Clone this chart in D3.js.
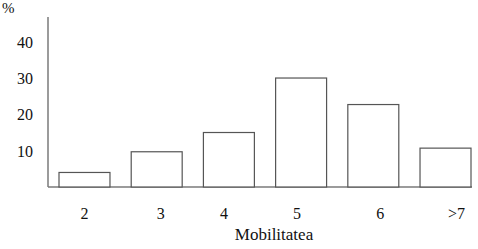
<!DOCTYPE html>
<html>
<head>
<meta charset="utf-8">
<script src="https://cdn.jsdelivr.net/npm/d3@7"></script>
<style>
  body { margin: 0; background: #fff; }
  text { font-family: "Liberation Serif", "Times New Roman", serif; fill: #111; }
</style>
</head>
<body>
<svg id="chart" width="478" height="249"></svg>
<script>
const categories = ["2", "3", "4", "5", "6", ">7"];
const values = [4, 9.7, 15, 30, 22.7, 10.7];
const yTicks = [10, 20, 30, 40];
const yLabel = "%";
const xLabel = "Mobilitatea";

// small nudges so the category labels sit where the original put them
const labelDx = [0, 4, -5, -4, 7, 11];

const svg = d3.select("#chart");
const axisColor = "#7a7a7a";
const barStroke = "#555";

const xScale = d3.scaleBand()
  .domain(categories)
  .range([59, 471])
  .paddingInner(0.294)
  .paddingOuter(0);

const yScale = d3.scaleLinear()
  .domain([0, 46.8])
  .range([187, 17]);

// axes
svg.append("line")
  .attr("x1", 48).attr("x2", 48)
  .attr("y1", yScale(46.8)).attr("y2", yScale(0))
  .attr("stroke", axisColor)
  .attr("stroke-width", 1.5);

svg.append("line")
  .attr("x1", 48).attr("x2", 472)
  .attr("y1", yScale(0)).attr("y2", yScale(0))
  .attr("stroke", axisColor)
  .attr("stroke-width", 1.5);

// bars
svg.append("g")
  .selectAll("rect")
  .data(values)
  .join("rect")
  .attr("x", (d, i) => xScale(categories[i]))
  .attr("y", (d) => yScale(d))
  .attr("width", xScale.bandwidth())
  .attr("height", (d) => yScale(0) - yScale(d))
  .attr("fill", "#fff")
  .attr("stroke", barStroke)
  .attr("stroke-width", 1.2);

// y tick labels
svg.append("g")
  .selectAll("text")
  .data(yTicks)
  .join("text")
  .attr("x", 33)
  .attr("y", (d) => yScale(d) + 6)
  .attr("text-anchor", "end")
  .style("font-size", "16px")
  .text((d) => d);

svg.append("text")
  .attr("x", 2)
  .attr("y", 13)
  .style("font-size", "15px")
  .text(yLabel);

// category labels
svg.append("g")
  .selectAll("text")
  .data(categories)
  .join("text")
  .attr("x", (d, i) => xScale(d) + xScale.bandwidth() / 2 + labelDx[i])
  .attr("y", 219)
  .attr("text-anchor", "middle")
  .style("font-size", "16px")
  .text((d) => d);

svg.append("text")
  .attr("x", 274)
  .attr("y", 240)
  .attr("text-anchor", "middle")
  .style("font-size", "17px")
  .text(xLabel);
</script>
</body>
</html>
